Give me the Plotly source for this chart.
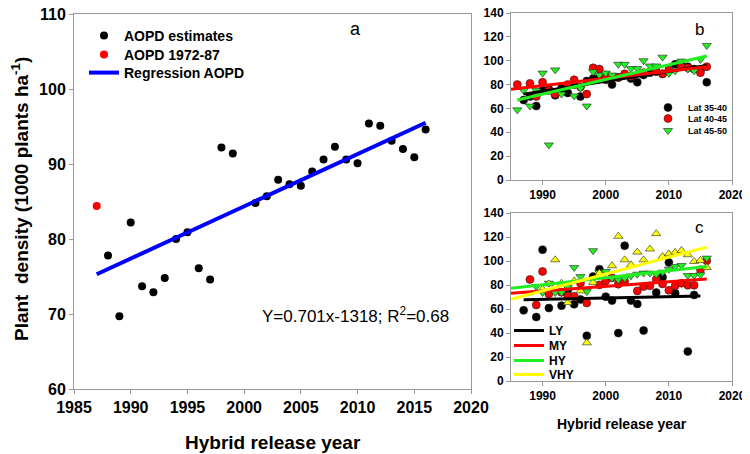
import plotly.graph_objects as go

# panel a: AOPD estimates
years_a = [1988, 1989, 1990, 1991, 1992, 1993, 1994, 1995, 1996, 1997, 1998, 1999,
           2001, 2002, 2003, 2004, 2005, 2006, 2007, 2008, 2009, 2010, 2011, 2012,
           2013, 2014, 2015, 2016]
aopd = [77.8, 69.7, 82.2, 73.7, 72.9, 74.8, 80.0, 80.9, 76.1, 74.6, 92.2, 91.4,
        84.8, 85.7, 87.9, 87.3, 87.1, 89.0, 90.6, 92.3, 90.6, 90.1, 95.4, 95.1,
        93.1, 92.0, 90.9, 94.6]
years_old = [1987]
aopd_old = [84.4]
reg_years = [1987, 2016]
reg_aopd = [75.3, 95.5]

# panel b: latitude groups
years_35 = list(range(1987, 2017))
lat_35 = [67, 70, 62, 75, 76, 71, 77, 73, 80, 70, 83, 85, 86, 84, 80, 86, 88, 85,
          82, 88, 90, 91, 89, 92, 97, 96, 95, 93, 92, 82]
years_40 = [1986, 1988, 1989, 1990, 1991, 1992, 1994, 1995, 1996, 1997, 1998, 1999,
            2000, 2002, 2003, 2004, 2006, 2008, 2009, 2010, 2012, 2013, 2015, 2016]
lat_40 = [80, 81, 70, 82, 75, 72, 80, 84, 78, 72, 94, 93, 88, 86, 89, 87, 90, 91,
          89, 92, 95, 94, 90, 95]
years_45 = [1986, 1987, 1988, 1989, 1990, 1991, 1992, 1993, 1995, 1996, 1997, 1998,
            1999, 2000, 2001, 2002, 2003, 2004, 2005, 2006, 2007, 2008, 2009, 2010,
            2011, 2012, 2013, 2014, 2015, 2016]
lat_45 = [58.8, 75, 62, 75, 89.6, 29.4, 92.3, 72, 70.5, 77, 62, 90.7, 88, 89.6, 88,
          97, 97, 93.4, 93.4, 100, 95.6, 95.6, 103, 89.3, 91.5, 99.7, 92.9, 91.5,
          101, 112.8]
fit_b = {
    "Lat 35-40": ([1987, 2016], [72, 96]),
    "Lat 40-45": ([1985, 2016], [76, 95]),
    "Lat 45-50": ([1986, 2016], [67, 104]),
}

# panel c: yield groups
years_ly = [1987, 1989, 1990, 1991, 1993, 1994, 1995, 1996, 1997, 1998, 1999, 2000,
            2001, 2002, 2003, 2004, 2005, 2006, 2008, 2009, 2010, 2011, 2013, 2014]
ly = [58.9, 53.3, 109.4, 60.8, 62.8, 75.9, 63.9, 68, 37.7, 87, 93.2, 70.3, 67, 39.9,
      112.8, 67, 64.2, 42.1, 73.7, 86.5, 98.8, 73.1, 24.6, 71.7]
years_my = [1988, 1989, 1990, 1991, 1993, 1994, 1995, 1996, 1997, 1999, 2000, 2001,
            2002, 2003, 2005, 2006, 2007, 2008, 2009, 2010, 2011, 2012, 2013, 2014,
            2015, 2016]
my = [84.6, 63.4, 91.3, 72.6, 74, 70.9, 70.6, 81.5, 65, 80.1, 83.4, 86, 80.7, 82.9,
      75.1, 78.7, 79.3, 84.8, 80.9, 75.6, 79.3, 81.5, 79.8, 79.8, 92.7, 100.2]
years_hy = [1989, 1990, 1991, 1992, 1993, 1994, 1995, 1996, 1997, 1998, 1999, 2000,
            2001, 2002, 2003, 2004, 2005, 2006, 2007, 2008, 2009, 2010, 2011, 2012,
            2013, 2014, 2015, 2016]
hy = [78.7, 73.7, 81.5, 73.7, 73.7, 78, 94.6, 87, 74.5, 108.6, 90.4, 91.3, 85.7, 84.3,
      85.7, 87.6, 89, 89.9, 89.9, 89, 90.7, 93.2, 95.4, 96.3, 87.9, 87.9, 88.5, 102.4]
years_vhy = [1990, 1991, 1992, 1993, 1994, 1995, 1996, 1997, 1998, 1999, 2001, 2002,
             2003, 2004, 2005, 2006, 2007, 2008, 2009, 2010, 2011, 2012, 2013, 2014,
             2015, 2016]
vhy = [76.5, 80.9, 101, 81.5, 65.3, 83.4, 75.1, 31.8, 82, 89.9, 96, 120.6, 101, 96.8,
       107.4, 101, 110, 122.8, 103.8, 106, 107.2, 108.8, 105.2, 99.6, 100.5, 94.6]
fit_c = {
    "LY": ([1987, 2015], [67.8, 70.9]),
    "MY": ([1985, 2016], [73.1, 85.1]),
    "HY": ([1985, 2016], [77.3, 95.4]),
    "VHY": ([1985, 2016], [68.1, 111.6]),
}

# the page body keeps its 8px margin, so the figure starts 8px in from the
# window corner; positions below are given in window pixels
PAGE_PAD = 8
W, H = 750 - PAGE_PAD, 454 - PAGE_PAD
FONT = "Liberation Sans"


def px_x(p):
    return (p - PAGE_PAD) / W


def px_y(p):
    return 1 - (p - PAGE_PAD) / H


# one small legend per entry so the rows can sit as tight as in the original
legend_boxes = {}


def legend_at(x0, row_y, size, drop=14):
    key = "legend" if not legend_boxes else "legend%d" % (len(legend_boxes) + 1)
    legend_boxes[key] = dict(x=px_x(x0), y=px_y(row_y - drop), xanchor="left",
                             yanchor="top", bgcolor="rgba(0,0,0,0)",
                             font=dict(size=size, family=FONT, weight="bold"))
    return key


fig = go.Figure()

# ---- panel a
fig.add_trace(go.Scatter(x=years_a, y=aopd, mode="markers", name="AOPD estimates",
                         marker=dict(color="black", size=8),
                         legend=legend_at(84, 35, 14, 15)))
fig.add_trace(go.Scatter(x=years_old, y=aopd_old, mode="markers", name="AOPD 1972-87",
                         marker=dict(color="#ff0000", size=8),
                         legend=legend_at(84, 54, 14, 15)))
fig.add_trace(go.Scatter(x=reg_years, y=reg_aopd, mode="lines", name="Regression AOPD",
                         line=dict(color="#0000ff", width=4),
                         legend=legend_at(84, 72, 14, 15)))

# ---- panel b
colors_b = {"Lat 35-40": "black", "Lat 40-45": "#ff0000", "Lat 45-50": "#22ee22"}
symbols_b = {"Lat 35-40": "circle", "Lat 40-45": "circle", "Lat 45-50": "triangle-down"}
rows_b = {"Lat 35-40": 107, "Lat 40-45": 118, "Lat 45-50": 130}
for name, xs, ys in [("Lat 35-40", years_35, lat_35), ("Lat 40-45", years_40, lat_40),
                     ("Lat 45-50", years_45, lat_45)]:
    fig.add_trace(go.Scatter(x=xs, y=ys, mode="markers", name=name,
                             marker=dict(color=colors_b[name], size=8, symbol=symbols_b[name],
                                         line=dict(color="#222222", width=0.6)),
                             xaxis="x2", yaxis="y2",
                             legend=legend_at(648, rows_b[name], 9)))
for name, (xs, ys) in fit_b.items():
    fig.add_trace(go.Scatter(x=xs, y=ys, mode="lines", showlegend=False,
                             line=dict(color=colors_b[name], width=3),
                             xaxis="x2", yaxis="y2"))

# ---- panel c
colors_c = {"LY": "black", "MY": "#ff0000", "HY": "#22ee22", "VHY": "#ffff00"}
symbols_c = {"LY": "circle", "MY": "circle", "HY": "triangle-down", "VHY": "triangle-up"}
rows_c = {"LY": 330, "MY": 345, "HY": 360, "VHY": 374}
for name, xs, ys in [("LY", years_ly, ly), ("MY", years_my, my), ("HY", years_hy, hy),
                     ("VHY", years_vhy, vhy)]:
    fig.add_trace(go.Scatter(x=xs, y=ys, mode="markers", showlegend=False,
                             marker=dict(color=colors_c[name], size=8, symbol=symbols_c[name],
                                         line=dict(color="#222222", width=0.6)),
                             xaxis="x3", yaxis="y3"))
for name, (xs, ys) in fit_c.items():
    fig.add_trace(go.Scatter(x=xs, y=ys, mode="lines", name=name,
                             line=dict(color=colors_c[name], width=3),
                             xaxis="x3", yaxis="y3",
                             legend=legend_at(509, rows_c[name], 12)))

axis_common = dict(showline=True, mirror=True, linecolor="#999999", linewidth=1,
                   ticks="outside", ticklen=4, tickcolor="#999999", showgrid=False,
                   zeroline=False, automargin=False, ticklabeloverflow="allow")

# top edges sit a few px lower than the original so the top tick labels stay in the page
fig.update_layout(
    width=W, height=H,
    margin=dict(l=0, r=0, t=0, b=0),
    plot_bgcolor="white", paper_bgcolor="white",
    font=dict(family=FONT, color="black"),
    xaxis=dict(axis_common, domain=[px_x(74), px_x(471)], range=[1985, 2020], dtick=5,
               tickfont=dict(size=16, family=FONT, weight="bold"), anchor="y"),
    yaxis=dict(axis_common, domain=[px_y(389), px_y(14)], range=[60, 110], dtick=10,
               tickfont=dict(size=16, family=FONT, weight="bold"), anchor="x"),
    xaxis2=dict(axis_common, domain=[px_x(511), px_x(732)], range=[1985, 2020],
                tickvals=[1990, 2000, 2010, 2020],
                tickfont=dict(size=12, family=FONT, weight="bold"), anchor="y2"),
    yaxis2=dict(axis_common, domain=[px_y(180), px_y(13)], range=[0, 140], dtick=20,
                tickfont=dict(size=12, family=FONT, weight="bold"), anchor="x2"),
    xaxis3=dict(axis_common, domain=[px_x(511), px_x(732)], range=[1985, 2020],
                tickvals=[1990, 2000, 2010, 2020],
                tickfont=dict(size=12, family=FONT, weight="bold"), anchor="y3"),
    yaxis3=dict(axis_common, domain=[px_y(381), px_y(213)], range=[0, 140], dtick=20,
                tickfont=dict(size=12, family=FONT, weight="bold"), anchor="x3"),
    **legend_boxes,
)

annots = [
    dict(text="a", x=px_x(355), y=px_y(29), size=18, bold=False),
    dict(text="b", x=px_x(699), y=px_y(29), size=17, bold=False),
    dict(text="c", x=px_x(699), y=px_y(227), size=17, bold=False),
    dict(text="Y=0.701x-1318; R<sup>2</sup>=0.68", x=px_x(355), y=px_y(315), size=17,
         bold=False),
    dict(text="Hybrid release year", x=px_x(273), y=px_y(442), size=19, bold=True),
    dict(text="Hybrid release year", x=px_x(622), y=px_y(424), size=14, bold=True),
]
for a in annots:
    fig.add_annotation(text=a["text"], x=a["x"], y=a["y"], xref="paper", yref="paper",
                       showarrow=False, xanchor="center", yanchor="middle",
                       font=dict(size=a["size"], family=FONT,
                                 weight="bold" if a["bold"] else "normal"))
fig.add_annotation(text="Plant  density (1000 plants ha<sup>-1</sup>)", textangle=-90,
                   x=px_x(20), y=px_y(199), xref="paper", yref="paper", showarrow=False,
                   xanchor="center", yanchor="middle",
                   font=dict(size=19, family=FONT, weight="bold"))

fig.write_html("out.html")
